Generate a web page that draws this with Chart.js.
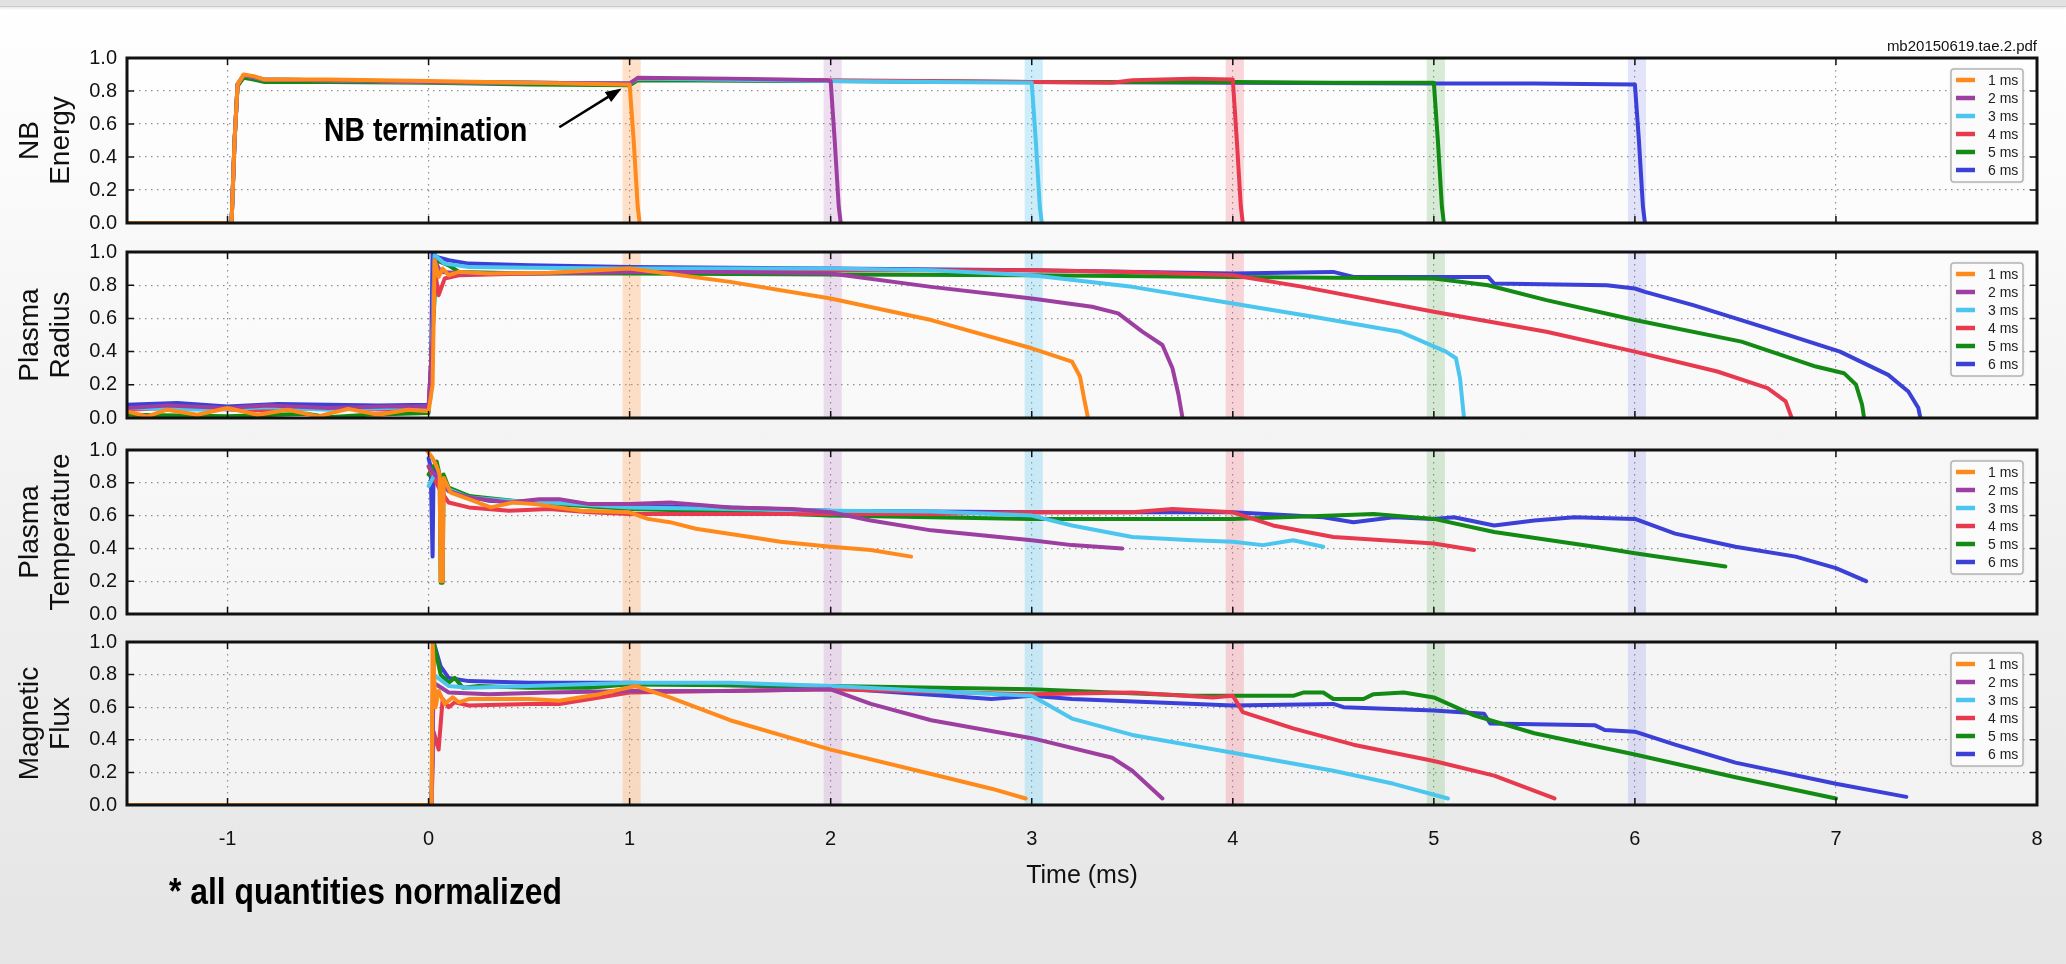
<!DOCTYPE html>
<html>
<head>
<meta charset="utf-8">
<script src="https://cdn.jsdelivr.net/npm/chart.js@4.4.1/dist/chart.umd.min.js"></script>
<style>
  html, body { margin: 0; padding: 0; }
  body { width: 2066px; height: 964px; position: relative; overflow: hidden;
         background: linear-gradient(to bottom, #ffffff 0%, #f7f7f7 30%, #e5e5e5 100%);
         font-family: "Liberation Sans", Arial, sans-serif; }
  #topbar { position: absolute; left: 0; top: 0; width: 100%; height: 6px; background: #e2e2e2;
            border-bottom: 1px solid #cdcdcd; box-shadow: 0 1px 3px rgba(0,0,0,0.12); }
  canvas { position: absolute; left: 0; top: 0; }
  #fname { position: absolute; right: 29px; top: 37px; font-size: 15px; color: #111; }
  #note { position: absolute; left: 169px; top: 873px; font-size: 36px; font-weight: bold; color: #000;
          line-height: 38px; transform: scaleX(0.885); transform-origin: left center; white-space: nowrap; }
</style>
</head>
<body>
<div id="topbar"></div>
<canvas id="c1" width="2066" height="964"></canvas>
<canvas id="c2" width="2066" height="964"></canvas>
<canvas id="c3" width="2066" height="964"></canvas>
<canvas id="c4" width="2066" height="964"></canvas>
<div id="fname">mb20150619.tae.2.pdf</div>
<div id="note">* all quantities normalized</div>
<script>
// ── shots: NB turned off at 1..6 ms ──
const shotLabels = ['1 ms', '2 ms', '3 ms', '4 ms', '5 ms', '6 ms'];
const terminationTimes = [1, 2, 3, 4, 5, 6];
const panelTitles = [['NB', 'Energy'], ['Plasma', 'Radius'], ['Plasma', 'Temperature'], ['Magnetic', 'Flux']];

// NB energy  [time ms, value]
const energy1 = [[-1.5,0],[-0.98,0],[-0.965,0.5],[-0.95,0.84],[-0.92,0.9],[-0.87,0.89],[-0.82,0.87],[-0.5,0.87],[0,0.86],[0.5,0.85],[0.97,0.84],[1.0,0.84],[1.02,0.5],[1.04,0.1],[1.05,0]];
const energy2 = [[-1.5,0],[-0.98,0],[-0.965,0.5],[-0.95,0.84],[-0.92,0.895],[-0.87,0.885],[-0.82,0.87],[-0.5,0.865],[0,0.855],[0.5,0.85],[1.0,0.845],[1.04,0.88],[1.5,0.875],[1.98,0.865],[2.0,0.86],[2.02,0.5],[2.04,0.1],[2.05,0]];
const energy3 = [[-1.5,0],[-0.98,0],[-0.965,0.5],[-0.95,0.84],[-0.92,0.895],[-0.87,0.885],[-0.82,0.87],[-0.5,0.865],[0,0.855],[0.5,0.85],[1.0,0.845],[1.04,0.875],[2.0,0.86],[2.5,0.855],[3.0,0.85],[3.02,0.5],[3.04,0.1],[3.05,0]];
const energy4 = [[-1.5,0],[-0.98,0],[-0.965,0.5],[-0.95,0.84],[-0.92,0.895],[-0.87,0.885],[-0.82,0.87],[-0.5,0.865],[0,0.855],[0.5,0.85],[1.0,0.845],[1.04,0.875],[2.0,0.865],[3.0,0.855],[3.4,0.85],[3.5,0.865],[3.8,0.875],[4.0,0.87],[4.02,0.5],[4.04,0.1],[4.05,0]];
const energy5 = [[-1.5,0],[-0.98,0],[-0.965,0.5],[-0.95,0.83],[-0.92,0.88],[-0.87,0.87],[-0.82,0.855],[-0.5,0.855],[0,0.85],[0.5,0.84],[1.0,0.835],[1.04,0.865],[2.0,0.86],[3.0,0.855],[4.0,0.855],[4.5,0.85],[5.0,0.85],[5.02,0.5],[5.04,0.1],[5.05,0]];
const energy6 = [[-1.5,0],[-0.98,0],[-0.965,0.5],[-0.95,0.84],[-0.92,0.89],[-0.87,0.88],[-0.82,0.865],[-0.5,0.86],[0,0.855],[0.5,0.85],[1.0,0.845],[1.04,0.87],[2.0,0.86],[3.0,0.855],[4.0,0.85],[5.0,0.845],[5.5,0.845],[6.0,0.84],[6.02,0.5],[6.04,0.1],[6.05,0]];

// plasma radius
const radius1 = [[-1.5,0.04],[-1.4,0.01],[-1.3,0.05],[-1.15,0.02],[-1.0,0.06],[-0.85,0.02],[-0.7,0.05],[-0.55,0.01],[-0.4,0.055],[-0.25,0.02],[-0.1,0.05],[0.0,0.04],[0.02,0.2],[0.03,0.95],[0.05,0.85],[0.07,0.9],[0.1,0.86],[0.15,0.88],[0.3,0.87],[0.6,0.875],[1.0,0.9],[1.5,0.82],[2.0,0.72],[2.5,0.59],[3.0,0.42],[3.2,0.34],[3.24,0.25],[3.26,0.12],[3.28,0]];
const radius2 = [[-1.5,0.06],[-1.3,0.075],[-1.0,0.06],[-0.8,0.075],[-0.5,0.06],[-0.2,0.07],[0,0.07],[0.02,0.5],[0.03,0.95],[0.06,0.88],[0.2,0.87],[0.5,0.87],[1.0,0.88],[1.5,0.88],[2.0,0.87],[2.5,0.79],[3.0,0.72],[3.3,0.67],[3.43,0.63],[3.55,0.52],[3.65,0.44],[3.7,0.3],[3.73,0.14],[3.75,0]];
const radius3 = [[-1.5,0.06],[-1.1,0.05],[-0.8,0.065],[-0.5,0.05],[-0.2,0.06],[0,0.07],[0.01,0.12],[0.03,0.98],[0.08,0.93],[0.2,0.91],[0.5,0.905],[1.0,0.9],[2.0,0.9],[2.5,0.89],[3.0,0.86],[3.5,0.79],[4.0,0.69],[4.4,0.61],[4.83,0.52],[5.06,0.4],[5.11,0.36],[5.13,0.24],[5.15,0]];
const radius4 = [[-1.5,0.05],[-1.2,0.065],[-0.9,0.045],[-0.5,0.06],[-0.2,0.05],[0,0.06],[0.02,0.5],[0.03,0.9],[0.05,0.74],[0.08,0.84],[0.15,0.86],[0.5,0.87],[1.0,0.88],[2.0,0.89],[3.0,0.89],[3.5,0.88],[4.0,0.86],[4.35,0.79],[5.0,0.64],[5.56,0.52],[6.0,0.4],[6.41,0.28],[6.66,0.18],[6.75,0.1],[6.78,0]];
const radius5 = [[-1.5,0.02],[-1.0,0.01],[-0.6,0.025],[-0.5,0.005],[-0.3,0.02],[0,0.03],[0.02,0.5],[0.04,0.95],[0.1,0.92],[0.15,0.88],[0.5,0.87],[1.0,0.87],[2.0,0.865],[3.0,0.86],[4.0,0.85],[4.5,0.845],[5.0,0.84],[5.27,0.8],[5.56,0.71],[6.0,0.59],[6.53,0.46],[6.9,0.31],[7.04,0.27],[7.1,0.2],[7.13,0.08],[7.14,0]];
const radius6 = [[-1.5,0.08],[-1.25,0.09],[-1.0,0.07],[-0.75,0.085],[-0.5,0.08],[-0.25,0.075],[0,0.08],[0.01,0.15],[0.02,1.0],[0.04,0.97],[0.1,0.95],[0.2,0.93],[0.5,0.92],[1.0,0.91],[2.0,0.9],[3.0,0.89],[4.0,0.87],[4.5,0.88],[4.6,0.85],[5.27,0.85],[5.3,0.81],[5.86,0.8],[6.0,0.78],[6.05,0.76],[6.29,0.68],[6.66,0.54],[7.02,0.4],[7.26,0.26],[7.36,0.16],[7.41,0.06],[7.42,0]];

// plasma temperature
const temp1 = [[-0.01,1.0],[0.02,0.95],[0.04,0.9],[0.055,0.85],[0.06,0.2],[0.07,0.2],[0.075,0.83],[0.11,0.74],[0.2,0.7],[0.31,0.65],[0.42,0.68],[0.53,0.67],[0.76,0.63],[1.0,0.62],[1.09,0.58],[1.2,0.56],[1.33,0.52],[1.6,0.47],[1.75,0.44],[2.0,0.41],[2.2,0.39],[2.4,0.35]];
const temp2 = [[0,0.9],[0.03,0.85],[0.1,0.75],[0.2,0.71],[0.4,0.68],[0.55,0.7],[0.65,0.7],[0.8,0.67],[1.0,0.67],[1.2,0.68],[1.5,0.65],[1.8,0.64],[2.0,0.62],[2.2,0.57],[2.5,0.51],[3.0,0.45],[3.2,0.42],[3.45,0.4]];
const temp3 = [[0,0.78],[0.03,0.85],[0.1,0.76],[0.2,0.71],[0.4,0.69],[0.6,0.68],[1.0,0.65],[1.5,0.64],[2.0,0.63],[2.5,0.625],[3.0,0.6],[3.2,0.54],[3.5,0.47],[3.8,0.45],[4.0,0.44],[4.15,0.42],[4.3,0.45],[4.45,0.41]];
const temp4 = [[0,0.9],[0.03,0.82],[0.06,0.75],[0.1,0.68],[0.2,0.65],[0.4,0.63],[0.6,0.64],[0.8,0.62],[1.0,0.61],[1.5,0.61],[2.0,0.61],[2.5,0.61],[3.0,0.62],[3.5,0.62],[3.7,0.64],[4.0,0.62],[4.2,0.54],[4.5,0.47],[5.0,0.43],[5.2,0.39]];
const temp5 = [[0,0.85],[0.04,0.93],[0.055,0.85],[0.06,0.19],[0.07,0.19],[0.075,0.85],[0.1,0.77],[0.2,0.72],[0.5,0.68],[1.0,0.64],[1.35,0.63],[2.0,0.6],[3.0,0.58],[4.0,0.58],[4.5,0.6],[4.7,0.61],[5.0,0.58],[5.3,0.5],[5.8,0.41],[6.0,0.37],[6.45,0.29]];
const temp6 = [[0,0.95],[0.01,0.9],[0.02,0.35],[0.025,0.9],[0.1,0.75],[0.3,0.69],[0.6,0.67],[1.0,0.66],[1.5,0.65],[2.0,0.63],[3.0,0.62],[4.0,0.62],[4.3,0.6],[4.45,0.59],[4.6,0.56],[4.8,0.59],[5.0,0.58],[5.1,0.59],[5.3,0.54],[5.5,0.57],[5.7,0.59],[6.0,0.58],[6.2,0.49],[6.5,0.41],[6.8,0.35],[7.0,0.28],[7.15,0.2]];

// magnetic flux
const flux1 = [[-1.5,0],[0.015,0],[0.02,1.0],[0.035,0.6],[0.05,0.7],[0.08,0.62],[0.12,0.66],[0.15,0.63],[0.2,0.65],[0.5,0.65],[0.65,0.64],[0.85,0.68],[1.03,0.73],[1.2,0.66],[1.5,0.52],[2.0,0.34],[2.5,0.19],[2.8,0.1],[2.97,0.04]];
const flux2 = [[-1.5,0],[0.015,0],[0.025,0.75],[0.1,0.69],[0.3,0.68],[0.6,0.69],[1.0,0.7],[1.5,0.7],[2.0,0.71],[2.2,0.62],[2.5,0.52],[3.0,0.41],[3.4,0.29],[3.5,0.21],[3.65,0.04]];
const flux3 = [[-1.5,0],[0.015,0],[0.025,0.8],[0.1,0.73],[0.2,0.72],[0.5,0.73],[1.0,0.75],[1.5,0.75],[2.0,0.73],[2.5,0.7],[3.0,0.67],[3.2,0.53],[3.5,0.43],[4.0,0.32],[4.5,0.21],[4.8,0.13],[5.07,0.04]];
const flux4 = [[-1.5,0],[0.015,0],[0.025,0.45],[0.05,0.34],[0.07,0.65],[0.1,0.6],[0.13,0.63],[0.2,0.61],[0.5,0.62],[0.65,0.62],[0.85,0.66],[1.0,0.69],[2.0,0.71],[3.0,0.68],[3.5,0.69],[3.9,0.66],[4.0,0.67],[4.05,0.57],[4.3,0.47],[4.6,0.37],[5.0,0.27],[5.3,0.18],[5.6,0.04]];
const flux5 = [[-1.5,0],[0.015,0],[0.025,1.0],[0.06,0.8],[0.1,0.75],[0.13,0.78],[0.17,0.72],[0.25,0.73],[0.5,0.72],[0.8,0.72],[1.0,0.74],[2.0,0.73],[3.0,0.71],[3.8,0.67],[4.3,0.67],[4.35,0.69],[4.45,0.69],[4.5,0.65],[4.65,0.65],[4.7,0.68],[4.85,0.69],[5.0,0.66],[5.2,0.55],[5.5,0.44],[6.0,0.31],[6.5,0.17],[7.0,0.04]];
const flux6 = [[-1.5,0],[0.015,0],[0.025,1.0],[0.06,0.85],[0.1,0.78],[0.2,0.76],[0.5,0.75],[1.0,0.75],[2.0,0.72],[2.8,0.65],[3.0,0.67],[3.2,0.65],[3.6,0.63],[4.0,0.61],[4.5,0.62],[4.55,0.6],[5.0,0.58],[5.25,0.56],[5.28,0.5],[5.8,0.49],[5.85,0.46],[6.0,0.45],[6.2,0.37],[6.5,0.26],[7.0,0.13],[7.35,0.05]];

// ── styles ──
const lineColors = ['#ff8a1c', '#9c3fa0', '#4cc6ee', '#e83a4f', '#138a13', '#3b40d6'];
const bandColors = ['rgba(255,150,60,0.28)', 'rgba(170,100,180,0.2)', 'rgba(90,200,240,0.3)',
                    'rgba(240,90,110,0.25)', 'rgba(60,160,60,0.2)', 'rgba(90,90,230,0.16)'];
const FONT = '"Liberation Sans", Arial, sans-serif';

const panelDecor = {
  id: 'panelDecor',
  beforeDraw(chart) {
    const { ctx, chartArea: a } = chart;
    ctx.save();
    ctx.fillStyle = 'rgba(255,255,255,0.45)';
    ctx.fillRect(a.left, a.top, a.width, a.height);
    ctx.restore();
  },
  beforeDatasetsDraw(chart) {
    const { ctx, chartArea: a, scales: { x } } = chart;
    ctx.save();
    terminationTimes.forEach((t, i) => {
      const x0 = x.getPixelForValue(t - 0.035), x1 = x.getPixelForValue(t + 0.055);
      ctx.fillStyle = bandColors[i];
      ctx.fillRect(x0, a.top, x1 - x0, a.height);
    });
    ctx.restore();
  },
  afterDatasetsDraw(chart, args, opts) {
    const { ctx, chartArea: a, scales: { x, y } } = chart;
    ctx.save();
    // frame + inward ticks
    ctx.strokeStyle = '#111';
    ctx.lineWidth = 1.5;
    y.ticks.forEach(tk => {
      const py = y.getPixelForValue(tk.value);
      ctx.beginPath(); ctx.moveTo(a.left, py); ctx.lineTo(a.left + 7, py);
      ctx.moveTo(a.right, py); ctx.lineTo(a.right - 7, py); ctx.stroke();
    });
    x.ticks.forEach(tk => {
      const px = x.getPixelForValue(tk.value);
      ctx.beginPath(); ctx.moveTo(px, a.top); ctx.lineTo(px, a.top + 7);
      ctx.moveTo(px, a.bottom); ctx.lineTo(px, a.bottom - 7); ctx.stroke();
    });
    ctx.lineWidth = 3;
    ctx.strokeRect(a.left, a.top, a.width, a.height);

    // legend box
    const bx = a.right - 86, by = a.top + 11, bw = 72, bh = 113;
    ctx.shadowColor = 'rgba(0,0,0,0.18)'; ctx.shadowBlur = 3;
    ctx.fillStyle = 'rgba(252,252,252,0.97)';
    ctx.beginPath(); ctx.roundRect(bx, by, bw, bh, 3); ctx.fill();
    ctx.shadowBlur = 0; ctx.shadowColor = 'transparent';
    ctx.strokeStyle = '#b4b4b4'; ctx.lineWidth = 1.5; ctx.stroke();
    ctx.font = '14px ' + FONT; ctx.textAlign = 'left'; ctx.textBaseline = 'middle';
    chart.data.datasets.forEach((ds, i) => {
      const ly = by + 11 + i * 18;
      ctx.strokeStyle = ds.borderColor; ctx.lineWidth = 4.5;
      ctx.beginPath(); ctx.moveTo(bx + 5, ly); ctx.lineTo(bx + 24, ly); ctx.stroke();
      ctx.fillStyle = '#222';
      ctx.fillText(ds.label, bx + 37, ly + 1);
    });

    // annotation
    if (opts.note) {
      ctx.fillStyle = '#000';
      ctx.save();
      ctx.translate(x.getPixelForValue(-0.52), y.getPixelForValue(0.495));
      ctx.scale(0.86, 1);
      ctx.font = 'bold 33px ' + FONT;
      ctx.textBaseline = 'alphabetic';
      ctx.fillText('NB termination', 0, 0);
      ctx.restore();
      const tx = x.getPixelForValue(0.65), ty = y.getPixelForValue(0.58);
      const hx = x.getPixelForValue(0.96), hy = y.getPixelForValue(0.815);
      const ang = Math.atan2(hy - ty, hx - tx);
      ctx.strokeStyle = '#000'; ctx.lineWidth = 2.5;
      ctx.beginPath(); ctx.moveTo(tx, ty); ctx.lineTo(hx - 12 * Math.cos(ang), hy - 12 * Math.sin(ang)); ctx.stroke();
      ctx.beginPath();
      ctx.moveTo(hx, hy);
      ctx.lineTo(hx - 16 * Math.cos(ang) + 6 * Math.sin(ang), hy - 16 * Math.sin(ang) - 6 * Math.cos(ang));
      ctx.lineTo(hx - 16 * Math.cos(ang) - 6 * Math.sin(ang), hy - 16 * Math.sin(ang) + 6 * Math.cos(ang));
      ctx.closePath(); ctx.fill();
    }
    ctx.restore();
  }
};

function makePanel(id, series, title, top, bottom, last, note) {
  const gridOpts = { color: 'rgba(110,110,110,0.75)', lineWidth: 1.2, drawTicks: false };
  const borderOpts = { display: false, dash: [1.5, 4.5] };
  return new Chart(document.getElementById(id), {
    type: 'line',
    data: {
      datasets: series.map((d, i) => ({
        label: shotLabels[i], data: d, borderColor: lineColors[i], backgroundColor: lineColors[i],
        borderWidth: 4, pointRadius: 0, tension: 0, borderJoinStyle: 'round', borderCapStyle: 'round'
      }))
    },
    options: {
      responsive: false, animation: false, devicePixelRatio: 1,
      layout: { padding: { top: top, bottom: last ? 964 - bottom - 90 : 964 - bottom, left: 0, right: 29 } },
      plugins: { legend: { display: false }, tooltip: { enabled: false }, panelDecor: { note: note } },
      scales: {
        x: {
          type: 'linear', min: -1.5, max: 8,
          ticks: { stepSize: 1, includeBounds: false, display: last, maxRotation: 0, padding: 22,
                   color: '#111', font: { family: FONT, size: 20 } },
          grid: gridOpts, border: borderOpts,
          title: { display: last, text: 'Time (ms)', color: '#111', font: { family: FONT, size: 25 }, padding: { top: 0, bottom: 4 } },
          afterFit: s => { if (last) s.height = 90; }
        },
        y: {
          min: 0, max: 1,
          ticks: { stepSize: 0.2, padding: 10, color: '#111', font: { family: FONT, size: 20 },
                   callback: v => v.toFixed(1) },
          grid: gridOpts, border: borderOpts,
          title: { display: true, text: title, color: '#111', font: { family: FONT, size: 28, lineHeight: 1.1 }, padding: { top: 15, bottom: 0 } },
          afterFit: s => { s.width = 127; }
        }
      }
    },
    plugins: [panelDecor]
  });
}

makePanel('c1', [energy1, energy2, energy3, energy4, energy5, energy6], panelTitles[0], 58, 223, false, true);
makePanel('c2', [radius1, radius2, radius3, radius4, radius5, radius6], panelTitles[1], 252, 418, false, false);
makePanel('c3', [temp1, temp2, temp3, temp4, temp5, temp6], panelTitles[2], 450, 614, false, false);
makePanel('c4', [flux1, flux2, flux3, flux4, flux5, flux6], panelTitles[3], 642, 805, true, false);
</script>
</body>
</html>
